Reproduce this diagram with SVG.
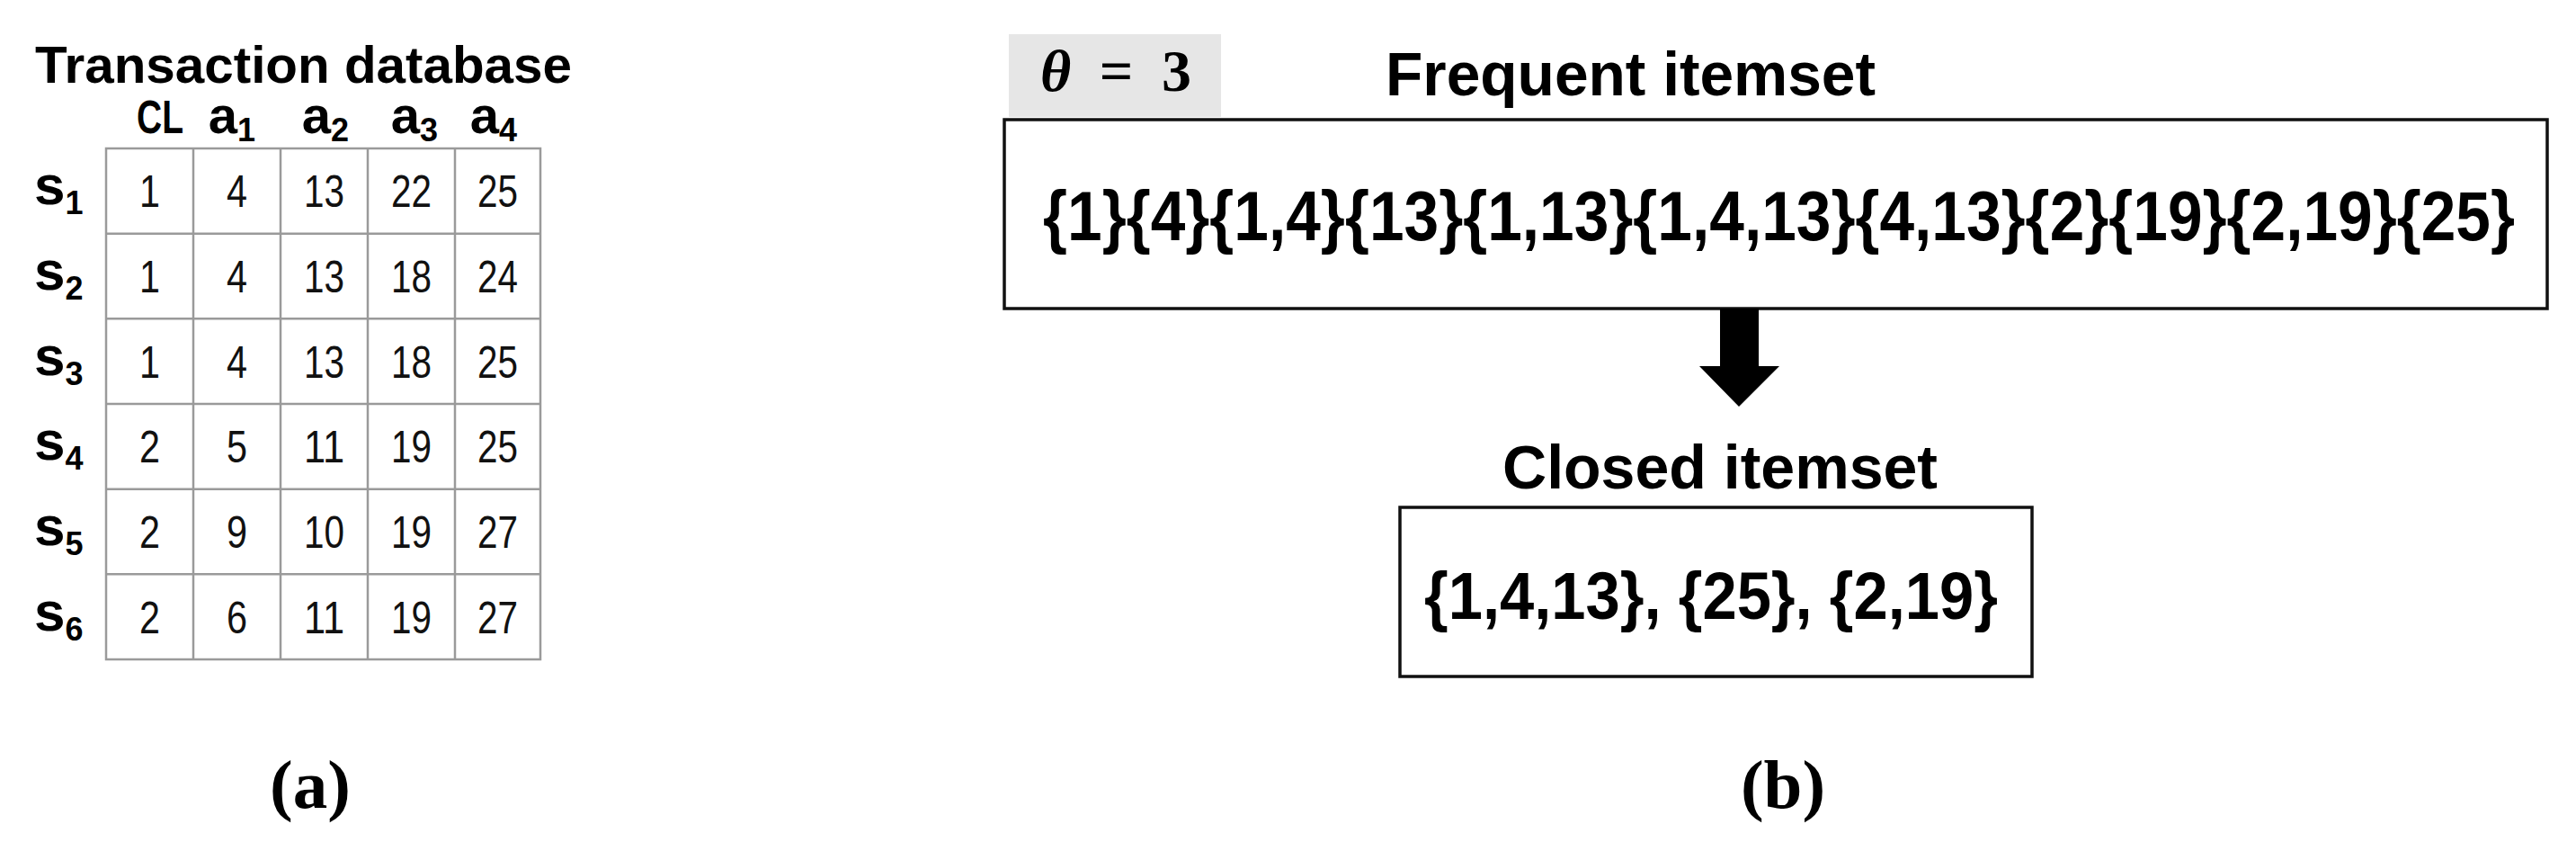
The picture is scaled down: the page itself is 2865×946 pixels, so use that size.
<svg xmlns="http://www.w3.org/2000/svg" width="2865" height="946" viewBox="0 0 2865 946">
<style>
.bold{font-family:"Liberation Sans","Arial",sans-serif;font-weight:bold;fill:#000}
.cell{font-family:"Liberation Sans","Arial",sans-serif;font-size:50px;fill:#111;text-anchor:middle}
.grid{stroke:#9a9a9a;stroke-width:2.5;fill:none}
.box{fill:#fff;stroke:#111;stroke-width:3.5}
.cap{font-family:"Liberation Serif","Times New Roman",serif;font-weight:bold;font-size:77px;text-anchor:middle;fill:#000}
</style>
<rect width="2865" height="946" fill="#fff"/>
<g id="table">
<text class="bold" x="39" y="92" font-size="58" textLength="597" lengthAdjust="spacingAndGlyphs">Transaction database</text>
<g id="headers" class="bold" font-size="58" text-anchor="middle">
<text x="178" y="148" font-size="52" textLength="52" lengthAdjust="spacingAndGlyphs">CL</text>
<text x="258" y="148">a<tspan font-size="36" dy="9">1</tspan></text>
<text x="362" y="148">a<tspan font-size="36" dy="9">2</tspan></text>
<text x="461" y="148">a<tspan font-size="36" dy="9">3</tspan></text>
<text x="549" y="148">a<tspan font-size="36" dy="9">4</tspan></text>
</g>
<g id="rowlabels" class="bold" font-size="62">
<text x="38" y="227">s<tspan font-size="36" dy="11">1</tspan></text>
<text x="38" y="321.5">s<tspan font-size="36" dy="11">2</tspan></text>
<text x="38" y="416.5">s<tspan font-size="36" dy="11">3</tspan></text>
<text x="38" y="511">s<tspan font-size="36" dy="11">4</tspan></text>
<text x="38" y="606">s<tspan font-size="36" dy="11">5</tspan></text>
<text x="38" y="701">s<tspan font-size="36" dy="11">6</tspan></text>
</g>
<g id="grid" class="grid">
<rect x="118" y="165" width="483" height="568"/>
<line x1="215" y1="165" x2="215" y2="733"/>
<line x1="312" y1="165" x2="312" y2="733"/>
<line x1="409" y1="165" x2="409" y2="733"/>
<line x1="506" y1="165" x2="506" y2="733"/>
<line x1="118" y1="259.7" x2="601" y2="259.7"/>
<line x1="118" y1="354.3" x2="601" y2="354.3"/>
<line x1="118" y1="449" x2="601" y2="449"/>
<line x1="118" y1="543.7" x2="601" y2="543.7"/>
<line x1="118" y1="638.3" x2="601" y2="638.3"/>
</g>
<g id="cells">
<text class="cell" x="166.5" y="230" textLength="23" lengthAdjust="spacingAndGlyphs">1</text>
<text class="cell" x="263.5" y="230" textLength="23" lengthAdjust="spacingAndGlyphs">4</text>
<text class="cell" x="360.5" y="230" textLength="45" lengthAdjust="spacingAndGlyphs">13</text>
<text class="cell" x="457.5" y="230" textLength="45" lengthAdjust="spacingAndGlyphs">22</text>
<text class="cell" x="553.5" y="230" textLength="45" lengthAdjust="spacingAndGlyphs">25</text>
<text class="cell" x="166.5" y="324.5" textLength="23" lengthAdjust="spacingAndGlyphs">1</text>
<text class="cell" x="263.5" y="324.5" textLength="23" lengthAdjust="spacingAndGlyphs">4</text>
<text class="cell" x="360.5" y="324.5" textLength="45" lengthAdjust="spacingAndGlyphs">13</text>
<text class="cell" x="457.5" y="324.5" textLength="45" lengthAdjust="spacingAndGlyphs">18</text>
<text class="cell" x="553.5" y="324.5" textLength="45" lengthAdjust="spacingAndGlyphs">24</text>
<text class="cell" x="166.5" y="419.5" textLength="23" lengthAdjust="spacingAndGlyphs">1</text>
<text class="cell" x="263.5" y="419.5" textLength="23" lengthAdjust="spacingAndGlyphs">4</text>
<text class="cell" x="360.5" y="419.5" textLength="45" lengthAdjust="spacingAndGlyphs">13</text>
<text class="cell" x="457.5" y="419.5" textLength="45" lengthAdjust="spacingAndGlyphs">18</text>
<text class="cell" x="553.5" y="419.5" textLength="45" lengthAdjust="spacingAndGlyphs">25</text>
<text class="cell" x="166.5" y="514" textLength="23" lengthAdjust="spacingAndGlyphs">2</text>
<text class="cell" x="263.5" y="514" textLength="23" lengthAdjust="spacingAndGlyphs">5</text>
<text class="cell" x="360.5" y="514" textLength="45" lengthAdjust="spacingAndGlyphs">11</text>
<text class="cell" x="457.5" y="514" textLength="45" lengthAdjust="spacingAndGlyphs">19</text>
<text class="cell" x="553.5" y="514" textLength="45" lengthAdjust="spacingAndGlyphs">25</text>
<text class="cell" x="166.5" y="609" textLength="23" lengthAdjust="spacingAndGlyphs">2</text>
<text class="cell" x="263.5" y="609" textLength="23" lengthAdjust="spacingAndGlyphs">9</text>
<text class="cell" x="360.5" y="609" textLength="45" lengthAdjust="spacingAndGlyphs">10</text>
<text class="cell" x="457.5" y="609" textLength="45" lengthAdjust="spacingAndGlyphs">19</text>
<text class="cell" x="553.5" y="609" textLength="45" lengthAdjust="spacingAndGlyphs">27</text>
<text class="cell" x="166.5" y="703.5" textLength="23" lengthAdjust="spacingAndGlyphs">2</text>
<text class="cell" x="263.5" y="703.5" textLength="23" lengthAdjust="spacingAndGlyphs">6</text>
<text class="cell" x="360.5" y="703.5" textLength="45" lengthAdjust="spacingAndGlyphs">11</text>
<text class="cell" x="457.5" y="703.5" textLength="45" lengthAdjust="spacingAndGlyphs">19</text>
<text class="cell" x="553.5" y="703.5" textLength="45" lengthAdjust="spacingAndGlyphs">27</text>
</g>
</g>
<g id="theta">
<rect x="1122" y="38" width="236" height="92" fill="#e6e6e6"/>
<text x="1157" y="101" font-family="Liberation Serif, Times New Roman, serif" font-size="66" font-weight="bold" textLength="168" lengthAdjust="spacing"><tspan font-style="italic">θ</tspan> = 3</text>
</g>
<g id="frequent">
<text class="bold" x="1541" y="106" font-size="68" textLength="545" lengthAdjust="spacingAndGlyphs">Frequent itemset</text>
<rect class="box" x="1117" y="133" width="1716" height="210"/>
<text class="bold" x="1160" y="267" font-size="77" textLength="1637" lengthAdjust="spacingAndGlyphs">{1}{4}{1,4}{13}{1,13}{1,4,13}{4,13}{2}{19}{2,19}{25}</text>
</g>
<g id="connectors">
<polygon points="1913,343 1956,343 1956,407 1979,407 1934,452 1890,407 1913,407" fill="#000"/>
</g>
<g id="closed">
<text class="bold" x="1671" y="543" font-size="68" textLength="484" lengthAdjust="spacingAndGlyphs">Closed itemset</text>
<rect class="box" x="1557" y="564" width="703" height="188"/>
<text class="bold" x="1584" y="688" font-size="75" textLength="638" lengthAdjust="spacingAndGlyphs">{1,4,13}, {25}, {2,19}</text>
</g>
<g id="captions">
<text class="cap" x="345" y="898">(a)</text>
<text class="cap" x="1983" y="898">(b)</text>
</g>
</svg>
